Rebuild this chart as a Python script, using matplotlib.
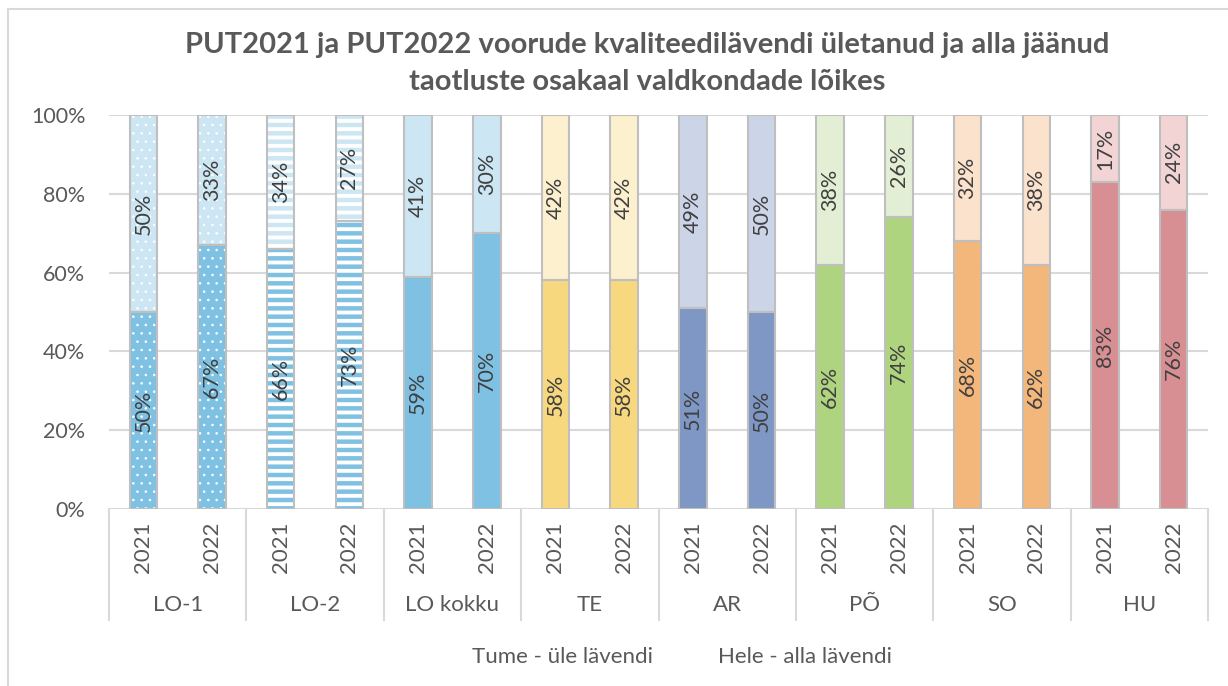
import matplotlib
matplotlib.use("Agg")
import matplotlib.pyplot as plt
import matplotlib.patches as mpatches
from matplotlib.transforms import blended_transform_factory
import numpy as np

plt.rcParams['font.family'] = ['Lato', 'DejaVu Sans']

groups = ['LO-1', 'LO-2', 'LO kokku', 'TE', 'AR', 'PÕ', 'SO', 'HU']
years = ['2021', '2022']
above = [50, 67, 66, 73, 59, 70, 58, 58, 51, 50, 62, 74, 68, 62, 83, 76]
below = [50, 33, 34, 27, 41, 30, 42, 42, 49, 50, 38, 26, 32, 38, 17, 24]

dark = ['#7EC1E3', '#7EC1E3', '#7EC1E3', '#F8D87F', '#7F97C4', '#AFD480', '#F4B77B', '#D88F93']
light = ['#CCE6F3', '#CCE6F3', '#CCE6F3', '#FDF0CF', '#CCD5E7', '#E2EFD4', '#FBE2CC', '#F2D4D5']
hatches = ['..', '--', None, None, None, None, None, None]

W, H = 1228, 686
fig = plt.figure(figsize=(W / 100, H / 100), dpi=100)
ax = fig.add_axes([109 / W, 1 - 509 / H, 1099 / W, 394 / H])

tick_c = '#595959'
grid_c = '#D9D9D9'
edge_c = '#BFBFBF'
bw = 0.4


def seg(x, bottom, h, face, hatch):
    ax.bar(x, h, bottom=bottom, width=bw, color=face, edgecolor='none', zorder=2)
    if hatch:
        lw = 2.8 if '-' in hatch else 0.6
        with plt.rc_context({'hatch.linewidth': lw}):
            bars = ax.bar(x, h, bottom=bottom, width=bw, fill=False, edgecolor='white',
                          linewidth=0, hatch=hatch, zorder=3)
        for p in bars:
            if hasattr(p, 'set_hatch_linewidth'):
                p.set_hatch_linewidth(lw)
    ax.bar(x, h, bottom=bottom, width=bw, fill=False, edgecolor=edge_c, linewidth=1.5, zorder=4)


for i in range(len(above)):
    g = i // 2
    a = above[i] / 100
    b = below[i] / 100
    seg(i, 0, a, dark[g], hatches[g])
    seg(i, a, b, light[g], hatches[g])
    ax.text(i, a / 2, f'{above[i]}%', rotation=90, ha='center', va='center',
            fontsize=15.5, color='#404040', zorder=5)
    ax.text(i, a + b / 2, f'{below[i]}%', rotation=90, ha='center', va='center',
            fontsize=15.5, color='#404040', zorder=5)

ax.set_xlim(-0.5, len(above) - 0.5)
ax.set_ylim(0, 1)
ax.set_yticks(np.arange(0, 1.01, 0.2))
ax.set_yticklabels([f'{int(v * 100)}%' for v in np.arange(0, 1.01, 0.2)])
ax.tick_params(axis='y', length=0, pad=17, labelsize=15.5, labelcolor=tick_c)
ax.set_xticks([])
for s in ax.spines.values():
    s.set_visible(False)
ax.yaxis.grid(True, color=grid_c, linewidth=1.5, zorder=0)
ax.set_axisbelow(True)

# two-level category axis
tr = blended_transform_factory(ax.transData, fig.transFigure)
for i in range(len(above)):
    ax.text(i, 1 - 547 / H, years[i % 2], rotation=90, ha='center', va='center',
            fontsize=16, color=tick_c, transform=tr, clip_on=False)
for g, name in enumerate(groups):
    ax.text(2 * g + 0.5, 1 - 605 / H, name, ha='center', va='center',
            fontsize=16, color=tick_c, transform=tr, clip_on=False)
for k in range(len(groups) + 1):
    ax.plot([2 * k - 0.5, 2 * k - 0.5], [1 - 509 / H, 1 - 620 / H], color=grid_c,
            linewidth=1.5, transform=tr, clip_on=False)

fig.text(647 / W, 1 - 45 / H, 'PUT2021 ja PUT2022 voorude kvaliteedilävendi ületanud ja alla jäänud',
         ha='center', va='center', fontsize=21, fontweight='bold', color=tick_c)
fig.text(647 / W, 1 - 82 / H, 'taotluste osakaal valdkondade lõikes',
         ha='center', va='center', fontsize=21, fontweight='bold', color=tick_c)

fig.text(562 / W, 1 - 657 / H, 'Tume - üle lävendi', ha='center', va='center',
         fontsize=16, color=tick_c)
fig.text(805 / W, 1 - 657 / H, 'Hele - alla lävendi', ha='center', va='center',
         fontsize=16, color=tick_c)

fig.patches.append(mpatches.Rectangle((8 / W, -0.05), 1.1, 1 - 9 / H + 0.05, fill=False,
                                      edgecolor=grid_c, linewidth=1.5,
                                      transform=fig.transFigure, figure=fig))

fig.savefig('out.png', dpi=100)
